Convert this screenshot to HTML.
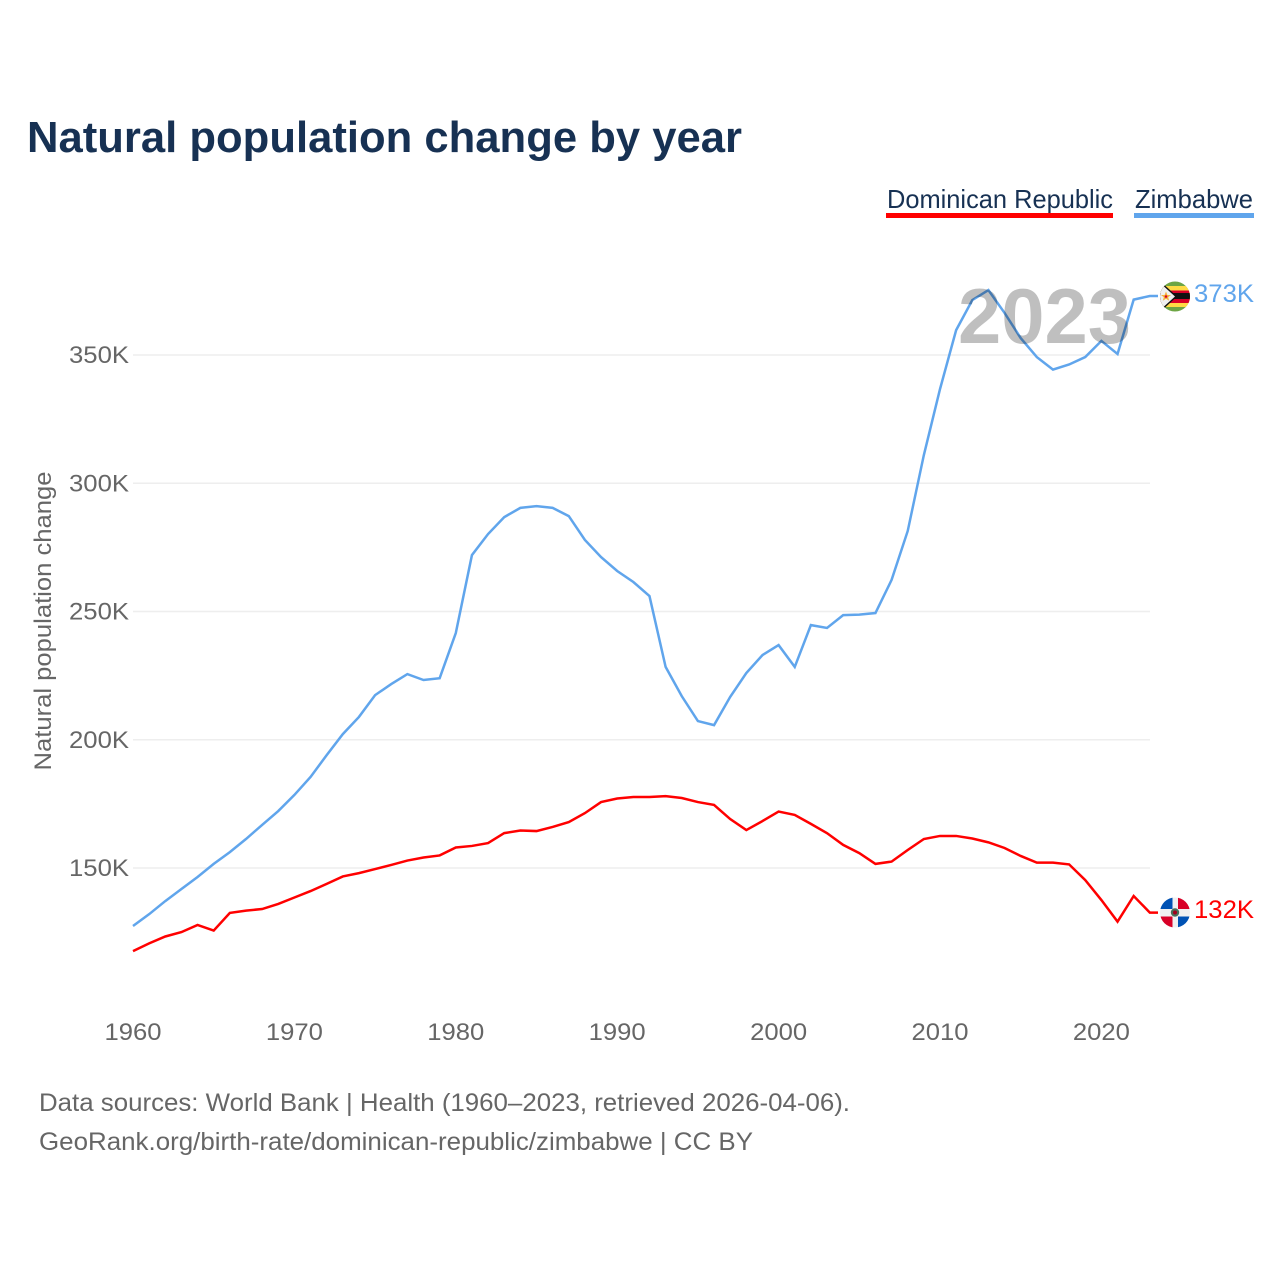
<!DOCTYPE html>
<html lang="en">
<head>
<meta charset="utf-8">
<title>Natural population change by year</title>
<style>
  html, body { margin: 0; padding: 0; background: #fff; }
  svg { display: block; font-family: "Liberation Sans", sans-serif; }
</style>
</head>
<body>
<svg id="chart" width="1280" height="1280" viewBox="0 0 1280 1280" xmlns="http://www.w3.org/2000/svg">
  <defs>
    <clipPath id="flag-clip-zw"><circle cx="1175" cy="296.5" r="15"/></clipPath>
    <clipPath id="flag-clip-do"><circle cx="1175" cy="912.5" r="15"/></clipPath>
  </defs>
  <rect width="1280" height="1280" fill="#fff"/>
  <text x="27" y="152" font-size="44" font-weight="700" fill="#173153" textLength="715" lengthAdjust="spacingAndGlyphs">Natural population change by year</text>

  <g>
    <g>
      <text x="887" y="208" font-size="26" fill="#173153" textLength="226" lengthAdjust="spacingAndGlyphs">Dominican Republic</text>
      <rect x="886" y="213" width="227" height="5" fill="#ff0000"/>
    </g>
    <g>
      <text x="1135" y="208" font-size="26" fill="#173153" textLength="118" lengthAdjust="spacingAndGlyphs">Zimbabwe</text>
      <rect x="1134" y="213" width="120" height="5" fill="#60a5ec"/>
    </g>
  </g>

  <g id="grid"></g>
  <g id="y-ticks"></g>
  <g id="x-ticks"></g>
  <text transform="translate(51,621) rotate(-90)" text-anchor="middle" font-size="24" fill="#666" textLength="299" lengthAdjust="spacingAndGlyphs">Natural population change</text>

  <g id="series"></g>

  <text x="958" y="343" font-size="78" font-weight="700" fill="#000" fill-opacity="0.25" textLength="173" lengthAdjust="spacingAndGlyphs">2023</text>

  <g clip-path="url(#flag-clip-zw)">
    <rect x="1160" y="281" width="30" height="31" fill="#6da544"/>
    <rect x="1160" y="286" width="30" height="21" fill="#ffda44"/>
    <rect x="1160" y="290.5" width="30" height="12.5" fill="#d80027"/>
    <rect x="1160" y="293" width="30" height="6" fill="#111"/>
    <polygon points="1158,279 1177,296.5 1158,314" fill="#111"/>
    <polygon points="1158,281 1175,296.5 1158,312" fill="#f0f0f0"/>
    <polygon points="1166,291.5 1167.4,295 1171,295 1168.2,297.2 1169.2,300.7 1166,298.7 1162.8,300.7 1163.8,297.2 1161,295 1164.6,295" fill="#f6b23c"/>
    <circle cx="1166" cy="296.5" r="1.3" fill="#d80027"/>
  </g>
  <g clip-path="url(#flag-clip-do)">
    <rect x="1160" y="897" width="30" height="31" fill="#f0f0f0"/>
    <rect x="1160" y="897" width="12.5" height="12" fill="#0052b4"/>
    <rect x="1178" y="897" width="12" height="12" fill="#d80027"/>
    <rect x="1160" y="916.5" width="12.5" height="12" fill="#d80027"/>
    <rect x="1178" y="916.5" width="12" height="12" fill="#0052b4"/>
    <circle cx="1175" cy="912.5" r="4.2" fill="#496e5a"/>
    <circle cx="1175" cy="912.5" r="2" fill="#a2001d"/>
  </g>

  <text x="1194" y="302" font-size="25" fill="#60a5ec" textLength="60" lengthAdjust="spacingAndGlyphs">373K</text>
  <text x="1194" y="918" font-size="25" fill="#ff0000" textLength="60" lengthAdjust="spacingAndGlyphs">132K</text>

  <g>
    <text x="39" y="1111" font-size="25" fill="#666" textLength="811" lengthAdjust="spacingAndGlyphs">Data sources: World Bank | Health (1960–2023, retrieved 2026-04-06).</text>
    <text x="39" y="1150" font-size="25" fill="#666" textLength="714" lengthAdjust="spacingAndGlyphs">GeoRank.org/birth-rate/dominican-republic/zimbabwe | CC BY</text>
  </g>
</svg>
<script>
const firstYear = 1960;
const yTickValues = [150, 200, 250, 300, 350];
const xTickYears = [1960, 1970, 1980, 1990, 2000, 2010, 2020];
const zimbabweValues = [
  127.4, 132, 137.1, 141.8, 146.5, 151.6, 156.2, 161.3, 166.8, 172.2,
  178.5, 185.5, 194, 202.2, 208.9, 217.4, 221.7, 225.6, 223.3, 224,
  241.6, 272, 280.2, 286.8, 290.4, 291.1, 290.4, 287.2, 277.9, 271.2,
  265.8, 261.5, 256, 228.4, 217, 207.3, 205.7, 216.7, 226, 233,
  236.9, 228.4, 244.7, 243.6, 248.6, 248.8, 249.4, 262.3, 281.4, 311,
  336.7, 359.7, 371.4, 375.3, 366.4, 356.6, 349.2, 344.3, 346.3, 349.2,
  355.5, 350.4, 371.6, 373
];
const dominicanValues = [
  117.6, 120.6, 123.3, 125, 127.8, 125.6, 132.5, 133.4, 134, 136,
  138.5, 141, 143.8, 146.7, 148, 149.6, 151.2, 152.9, 154.1, 154.9,
  158, 158.6, 159.7, 163.6, 164.6, 164.4, 166, 167.9, 171.4, 175.7,
  177.1, 177.7, 177.7, 178, 177.3, 175.7, 174.6, 169.1, 164.8, 168.3,
  172, 170.7, 167.2, 163.6, 159, 155.8, 151.6, 152.5, 157, 161.3,
  162.5, 162.5, 161.5, 160, 157.8, 154.7, 152.1, 152.1, 151.4, 145.3,
  137.5, 129.1, 139.1, 132.6
];

const NS = 'http://www.w3.org/2000/svg';
function xScale(year) { return 133 + (year - 1960) * 16.14; }
function yScale(value) { return 868 - (value - 150) * 2.565; }

const grid = document.getElementById('grid');
const yTicks = document.getElementById('y-ticks');
yTickValues.forEach(function (v) {
  const line = document.createElementNS(NS, 'line');
  
  
  line.setAttribute('x1', 133);
  line.setAttribute('x2', 1150);
  line.setAttribute('y1', yScale(v));
  line.setAttribute('y2', yScale(v));
  line.setAttribute('stroke', '#eeeeee');
  line.setAttribute('stroke-width', 1.5);
  grid.appendChild(line);
  const label = document.createElementNS(NS, 'text');
  
  
  label.setAttribute('x', 129);
  label.setAttribute('y', yScale(v) + 8);
  label.setAttribute('text-anchor', 'end');
  label.setAttribute('font-size', 24);
  label.setAttribute('fill', '#666');
  label.setAttribute('textLength', 60);
  label.setAttribute('lengthAdjust', 'spacingAndGlyphs');
  label.textContent = v + 'K';
  yTicks.appendChild(label);
});

const xTicks = document.getElementById('x-ticks');
xTickYears.forEach(function (y) {
  const label = document.createElementNS(NS, 'text');
  
  
  label.setAttribute('x', xScale(y));
  label.setAttribute('y', 1040);
  label.setAttribute('text-anchor', 'middle');
  label.setAttribute('font-size', 24);
  label.setAttribute('fill', '#666');
  label.setAttribute('textLength', 57);
  label.setAttribute('lengthAdjust', 'spacingAndGlyphs');
  label.textContent = y;
  xTicks.appendChild(label);
});

function pathFor(values) {
  const pts = values.map(function (v, i) {
    return (i ? 'L' : 'M') + xScale(firstYear + i).toFixed(2) + ' ' + yScale(v).toFixed(2);
  });
  pts.push('L1158 ' + yScale(values[values.length - 1]).toFixed(2));
  return pts.join(' ');
}
const seriesGroup = document.getElementById('series');

const zimbabweLine = document.createElementNS(NS, 'path');


zimbabweLine.setAttribute('d', pathFor(zimbabweValues));
zimbabweLine.setAttribute('fill', 'none');
zimbabweLine.setAttribute('stroke', '#60a5ec');
zimbabweLine.setAttribute('stroke-width', 2.5);
seriesGroup.appendChild(zimbabweLine);

const dominicanLine = document.createElementNS(NS, 'path');


dominicanLine.setAttribute('d', pathFor(dominicanValues));
dominicanLine.setAttribute('fill', 'none');
dominicanLine.setAttribute('stroke', '#ff0000');
dominicanLine.setAttribute('stroke-width', 2.5);
seriesGroup.appendChild(dominicanLine);
</script>
</body>
</html>
